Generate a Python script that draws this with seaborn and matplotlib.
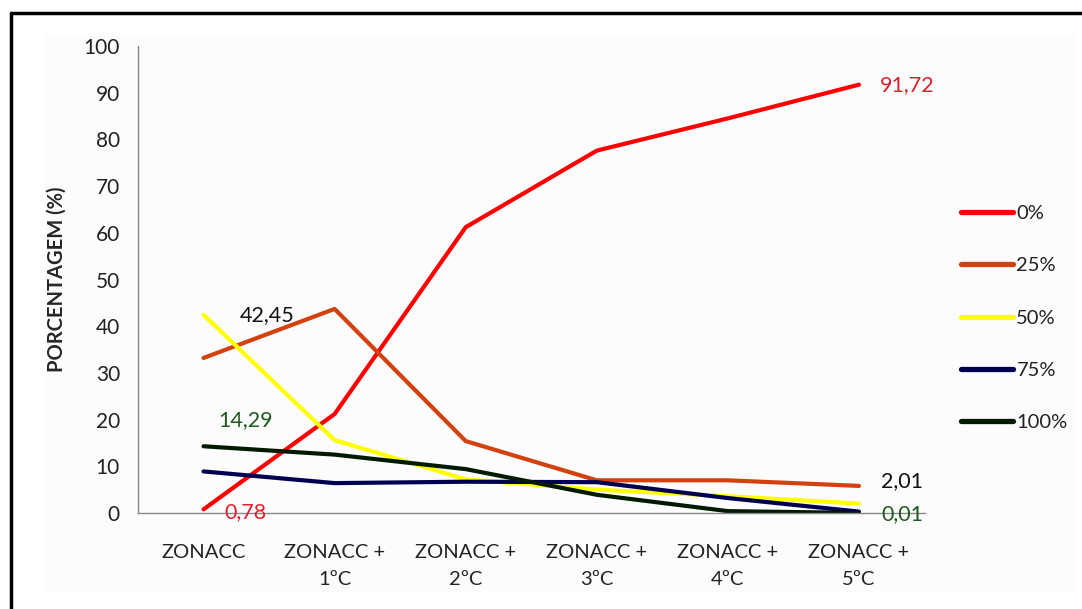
import matplotlib
matplotlib.use("Agg")
import matplotlib.pyplot as plt
import seaborn as sns
import pandas as pd
from matplotlib.lines import Line2D

categories = ["ZONACC", "ZONACC +\n1ºC", "ZONACC +\n2ºC", "ZONACC +\n3ºC", "ZONACC +\n4ºC", "ZONACC +\n5ºC"]
series_names = ["0%", "25%", "50%", "75%", "100%"]
s0 = [0.78, 21.2, 61.2, 77.6, 84.5, 91.72]
s25 = [33.2, 43.7, 15.4, 7.0, 7.0, 5.8]
s50 = [42.45, 15.6, 7.2, 5.0, 3.6, 2.01]
s75 = [8.9, 6.4, 6.7, 6.6, 3.2, 0.3]
s100 = [14.29, 12.5, 9.4, 3.9, 0.4, 0.01]
colors = ["#FF0000", "#D2410E", "#FFFF00", "#000050", "#001A00"]

values = [s0, s25, s50, s75, s100]
rows = []
for name, vals in zip(series_names, values):
    for i, v in enumerate(vals):
        rows.append({"x": i, "y": v, "serie": name})
df = pd.DataFrame(rows)

sns.set_style("white")
plt.rcParams["font.family"] = ["Lato", "DejaVu Sans"]

fig = plt.figure(figsize=(10.82, 6.09), dpi=100)
fig.patch.set_facecolor("white")
bg = fig.add_axes([45/1082, 1-592/609, 1030/1082, 557/609])
bg.set_facecolor("#FCFCFC")
bg.set_xticks([]); bg.set_yticks([])
for s in bg.spines.values():
    s.set_visible(False)
bg.set_zorder(-1)

fig.add_artist(Line2D([11/1082, 1.0], [1-13/609, 1-13/609], color="black", lw=2.5, transform=fig.transFigure))
fig.add_artist(Line2D([11/1082, 11/1082], [1-13/609, 0.0], color="black", lw=2.5, transform=fig.transFigure))

ax = fig.add_axes([138/1082, 1-513/609, (924.5-138)/1082, (513-46)/609])
ax.patch.set_alpha(0)
sns.lineplot(data=df, x="x", y="y", hue="serie", hue_order=series_names,
             palette=colors, linewidth=3.0, ax=ax, legend=False, sort=False)

ax.set_xlim(-0.5, 5.5)
ax.set_ylim(0, 100)
ax.set_yticks(range(0, 101, 10))
ax.set_yticklabels([str(v) for v in range(0, 101, 10)], fontsize=15, color="#222222")
ax.set_xticks([i - 0.5 for i in range(7)])
ax.set_xticklabels([])
ax.set_xticks(range(6), minor=True)
ax.set_xticklabels(categories, minor=True, fontsize=14.5, color="#222222", linespacing=1.75)
ax.tick_params(axis="x", which="major", length=7, width=1, color="#777777", direction="out")
ax.tick_params(axis="x", which="minor", length=0, pad=22)
ax.tick_params(axis="y", length=5, width=1, color="#777777", direction="out", pad=8)
for k in ["top", "right"]:
    ax.spines[k].set_visible(False)
for k in ["left", "bottom"]:
    ax.spines[k].set_color("#888888")
    ax.spines[k].set_linewidth(1)
ax.set_xlabel("")
ax.set_ylabel("PORCENTAGEM (%)", fontsize=14.5, fontweight="bold", labelpad=12)

ax.text(0.28, 42.45, "42,45", fontsize=15.5, color="#111111", va="center", ha="left")
ax.text(0.11, 19.8, "14,29", fontsize=15.5, color="#1E5A1E", va="center", ha="left")
ax.text(0.16, 0.1, "0,78", fontsize=15.5, color="#E0202A", va="center", ha="left")
ax.text(5.16, 91.72, "91,72", fontsize=15.5, color="#D8202A", va="center", ha="left")
ax.text(5.17, 6.8, "2,01", fontsize=15.5, color="#111111", va="center", ha="left")
ax.text(5.17, -0.2, "0,01", fontsize=15.5, color="#1E5A1E", va="center", ha="left")

handles = [Line2D([0], [0], color=c, lw=3.8, solid_capstyle="round") for c in colors]
leg = fig.legend(handles, series_names, loc="upper left",
                 bbox_to_anchor=(961/1082, 1-205/609), frameon=False,
                 fontsize=14.5, handlelength=2.6, handletextpad=0.15,
                 labelspacing=1.75, borderaxespad=0, borderpad=0)
for t in leg.get_texts():
    t.set_color("#222222")

fig.savefig("out.png", dpi=100, facecolor="white")
